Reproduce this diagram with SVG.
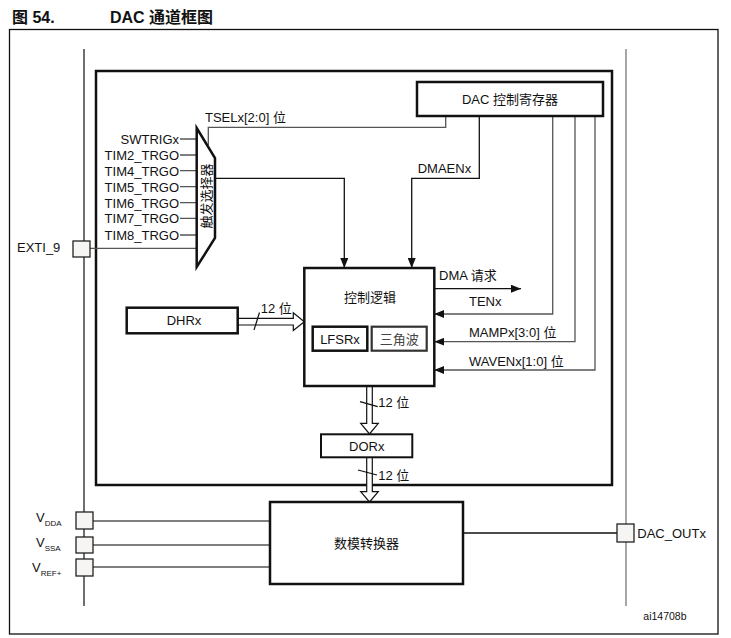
<svg xmlns="http://www.w3.org/2000/svg" width="731" height="638" viewBox="0 0 731 638">
<defs>
<style>
text{font-family:"Liberation Sans","Noto Sans CJK SC",Arial,sans-serif;font-size:13px;fill:#111}
.title{font-size:16px;font-weight:bold}
.box{fill:#fff;stroke:#111;stroke-width:2.5}
.thin{fill:none;stroke:#111;stroke-width:1.3}
.gray{fill:none;stroke:#555;stroke-width:1.3}
.pin{fill:#f6f5f3;stroke:#222;stroke-width:1.3}
.sub{font-size:8px}
.mid{text-anchor:middle}
.end{text-anchor:end}
</style>
<marker id="ah" markerWidth="10" markerHeight="8" refX="10" refY="4" orient="auto" markerUnits="userSpaceOnUse">
<path d="M0,0 L10,4 L0,8 Z" fill="#111"/>
</marker>
</defs>
<rect width="731" height="638" fill="#fff"/>
<g id="title">
<text class="title" x="12" y="23">图 54.</text>
<text class="title" x="110" y="23">DAC 通道框图</text>
</g>
<rect id="frame" x="9.5" y="29.5" width="708.5" height="604.5" fill="none" stroke="#111" stroke-width="1.3"/>
<g id="rails">
<line x1="84" y1="49" x2="84" y2="606" stroke="#222" stroke-width="1.3"/>
<line x1="626" y1="49" x2="626" y2="606" stroke="#777" stroke-width="1.3"/>
</g>
<rect id="dac-channel" x="96" y="71" width="516" height="414" fill="none" stroke="#111" stroke-width="2.5"/>
<g id="connectors">
<!-- mux inputs -->
<path class="gray" d="M180,139H197 M180,155H197 M180,170.7H197 M180,186.7H197 M180,202.7H197 M180,218.3H197 M180,235H197"/>
<line x1="90" y1="248.3" x2="197" y2="248.3" class="gray"/>
<!-- TSEL -->
<path class="gray" d="M445.7,116V127.3H208.3V145"/>
<!-- mux output -->
<path class="thin" d="M215,178.3H344.3V268" marker-end="url(#ah)"/>
<!-- DMAEN -->
<path class="thin" d="M479.3,116V178.3H411.7V268" marker-end="url(#ah)"/>
<!-- DMA request -->
<path class="thin" d="M434.3,288.7H521" marker-end="url(#ah)"/>
<!-- TEN, MAMP, WAVEN -->
<path class="gray" d="M552.7,116V314H434.3" marker-end="url(#ah)"/>
<path class="gray" d="M575,116V341.7H434.3" marker-end="url(#ah)"/>
<path class="gray" d="M595,116V370H434.3" marker-end="url(#ah)"/>
<!-- DHR to control: hollow bus arrow -->
<path fill="#fff" stroke="#111" stroke-width="1.2" d="M238,318.3H293.3V312.7L304.3,321.7L293.3,330.5V325H238"/>
<line x1="254" y1="330" x2="259.5" y2="312.5" stroke="#111" stroke-width="1.2"/>
<!-- control to DOR -->
<path fill="#fff" stroke="#111" stroke-width="1.2" d="M366.7,386V423.3H360.7L369.5,434L378.3,423.3H372.3V386"/>
<line x1="360" y1="401.7" x2="377.7" y2="406.7" stroke="#111" stroke-width="1.2"/>
<!-- DOR to converter -->
<path fill="#fff" stroke="#111" stroke-width="1.2" d="M366.7,457.3V491.7H360.7L369.5,502L378.3,491.7H372.3V457.3"/>
<line x1="358" y1="470" x2="377" y2="475" stroke="#111" stroke-width="1.2"/>
<!-- supply pins to converter -->
<path class="gray" d="M93,521H270 M93,545H270 M93,567H270"/>
<line x1="463" y1="533" x2="617" y2="533" stroke="#111" stroke-width="1.3"/>
</g>
<g id="mux">
<polygon points="196.7,128 215,158 215,238 196.7,267" fill="#fff" stroke="#111" stroke-width="2.5"/>
<text class="mid" transform="translate(211,196) rotate(-90)">触发选择器</text>
</g>
<g id="trigger-labels">
<text class="end" x="179" y="144">SWTRIGx</text>
<text class="end" x="179" y="160">TIM2_TRGO</text>
<text class="end" x="179" y="175.7">TIM4_TRGO</text>
<text class="end" x="179" y="191.7">TIM5_TRGO</text>
<text class="end" x="179" y="207.7">TIM6_TRGO</text>
<text class="end" x="179" y="223.3">TIM7_TRGO</text>
<text class="end" x="179" y="240">TIM8_TRGO</text>
</g>
<g id="exti">
<rect class="pin" x="73" y="241" width="17" height="16"/>
<text x="17" y="252">EXTI_9</text>
</g>
<g id="dac-cr">
<rect class="box" x="417" y="82" width="186" height="34"/>
<text class="mid" x="510" y="104">DAC 控制寄存器</text>
</g>
<g id="signal-labels">
<text x="205" y="121.5">TSELx[2:0] 位</text>
<text x="417.7" y="173.3">DMAENx</text>
<text x="439" y="280">DMA 请求</text>
<text x="469" y="306">TENx</text>
<text x="469" y="337">MAMPx[3:0] 位</text>
<text x="469" y="366">WAVENx[1:0] 位</text>
<text x="260.7" y="313">12 位</text>
<text x="378.3" y="406.7">12 位</text>
<text x="378.3" y="480">12 位</text>
</g>
<g id="control-logic">
<rect class="box" x="304.3" y="268" width="130" height="118"/>
<text class="mid" x="370" y="302">控制逻辑</text>
</g>
<g id="lfsr">
<rect class="box" x="312.7" y="326.7" width="54.6" height="24"/>
<text class="mid" x="340" y="343.5">LFSRx</text>
</g>
<g id="triangle">
<rect x="371.7" y="326.7" width="55" height="24" fill="#fff" stroke="#333" stroke-width="2.2"/>
<text class="mid" x="399.2" y="343.5" style="fill:#444">三角波</text>
</g>
<g id="dhr">
<rect class="box" x="126.7" y="307.7" width="111" height="25.6"/>
<text class="mid" x="184" y="325">DHRx</text>
</g>
<g id="dor">
<rect class="box" x="321" y="434.3" width="91.3" height="23" style="stroke-width:2"/>
<text class="mid" x="366.7" y="451">DORx</text>
</g>
<g id="converter">
<rect class="box" x="270" y="502" width="193" height="82"/>
<text class="mid" x="366.5" y="548">数模转换器</text>
</g>
<g id="vdda">
<rect class="pin" x="76" y="512" width="17" height="17"/>
<text x="36" y="522">V<tspan class="sub" dy="4">DDA</tspan></text>
</g>
<g id="vssa">
<rect class="pin" x="76" y="537" width="17" height="16"/>
<text x="36" y="547">V<tspan class="sub" dy="4">SSA</tspan></text>
</g>
<g id="vref">
<rect class="pin" x="76" y="559" width="17" height="17"/>
<text x="32" y="572">V<tspan class="sub" dy="4">REF+</tspan></text>
</g>
<g id="dac-out">
<rect class="pin" x="617" y="524" width="17" height="18"/>
<text x="637.3" y="538">DAC_OUTx</text>
</g>
<text x="643.3" y="620" style="font-size:10.5px">ai14708b</text>
</svg>
